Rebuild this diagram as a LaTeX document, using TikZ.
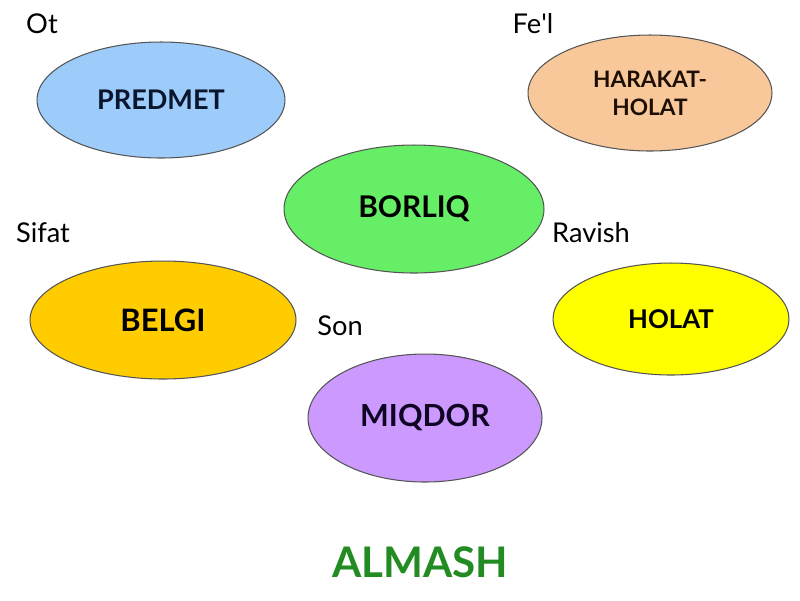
\documentclass[tikz,border=0pt]{standalone}
\usepackage{fontspec}
\setmainfont{Lato}
\usepackage{tikz}
\usetikzlibrary{shapes.geometric}

\definecolor{predmetblue}{RGB}{158,204,250}
\definecolor{harakatpeach}{RGB}{248,200,155}
\definecolor{borliqgreen}{RGB}{102,238,102}
\definecolor{belgigold}{RGB}{255,204,0}
\definecolor{holatyellow}{RGB}{255,255,0}
\definecolor{miqdorlilac}{RGB}{204,153,255}
\definecolor{almashgreen}{RGB}{34,139,34}
\definecolor{rimgrey}{RGB}{85,85,85}

\tikzset{
    blob/.style={ellipse, draw=rimgrey, line width=0.6pt, inner sep=0pt,
        font=\bfseries, align=center},
    tag/.style={font=\fontsize{15.5pt}{18pt}\selectfont, inner sep=0pt}
}

\begin{document}
\begin{tikzpicture}[x=0.02cm, y=-0.02cm]
        \useasboundingbox (0,0) rectangle (800,600);
        % the six word fields
        \node[blob, fill=predmetblue, minimum width=4.96cm, minimum height=2.32cm,
            font=\bfseries\fontsize{15.4pt}{18pt}\selectfont, text={rgb,255:red,10;green,22;blue,45}]
            (predmet) at (161,100) {PREDMET};
        \node[blob, fill=harakatpeach, minimum width=4.88cm, minimum height=2.32cm,
            font=\bfseries\fontsize{12.9pt}{16pt}\selectfont, text={rgb,255:red,30;green,15;blue,5}]
            (harakat) at (650,93) {HARAKAT-\\HOLAT};
        \node[blob, fill=borliqgreen, minimum width=5.2cm, minimum height=2.56cm,
            font=\bfseries\fontsize{17pt}{20pt}\selectfont]
            (borliq) at (414,209) {BORLIQ};
        \node[blob, fill=belgigold, minimum width=5.32cm, minimum height=2.36cm,
            font=\bfseries\fontsize{17.6pt}{21pt}\selectfont]
            (belgi) at (163,320) {BELGI};
        \node[blob, fill=holatyellow, minimum width=4.72cm, minimum height=2.24cm,
            font=\bfseries\fontsize{14.7pt}{17pt}\selectfont]
            (holat) at (671,319) {HOLAT};
        \node[blob, fill=miqdorlilac, minimum width=4.68cm, minimum height=2.56cm,
            font=\bfseries\fontsize{17.3pt}{20pt}\selectfont, text={rgb,255:red,15;green,5;blue,35}]
            (miqdor) at (425,418) {MIQDOR};
        % word class tags
        \node[tag] (ot) at (42,24) {Ot};
        \node[tag] (fel) at (533,24) {Fe\textquotesingle l};
        \node[tag] (sifat) at (43,233) {Sifat};
        \node[tag] (ravish) at (591,233) {Ravish};
        \node[tag] (son) at (340,326) {Son};
        % title
        \node[font=\bfseries\fontsize{24pt}{28pt}\selectfont, text=almashgreen]
            (almash) at (420,562) {ALMASH};
    \end{tikzpicture}
\end{document}
